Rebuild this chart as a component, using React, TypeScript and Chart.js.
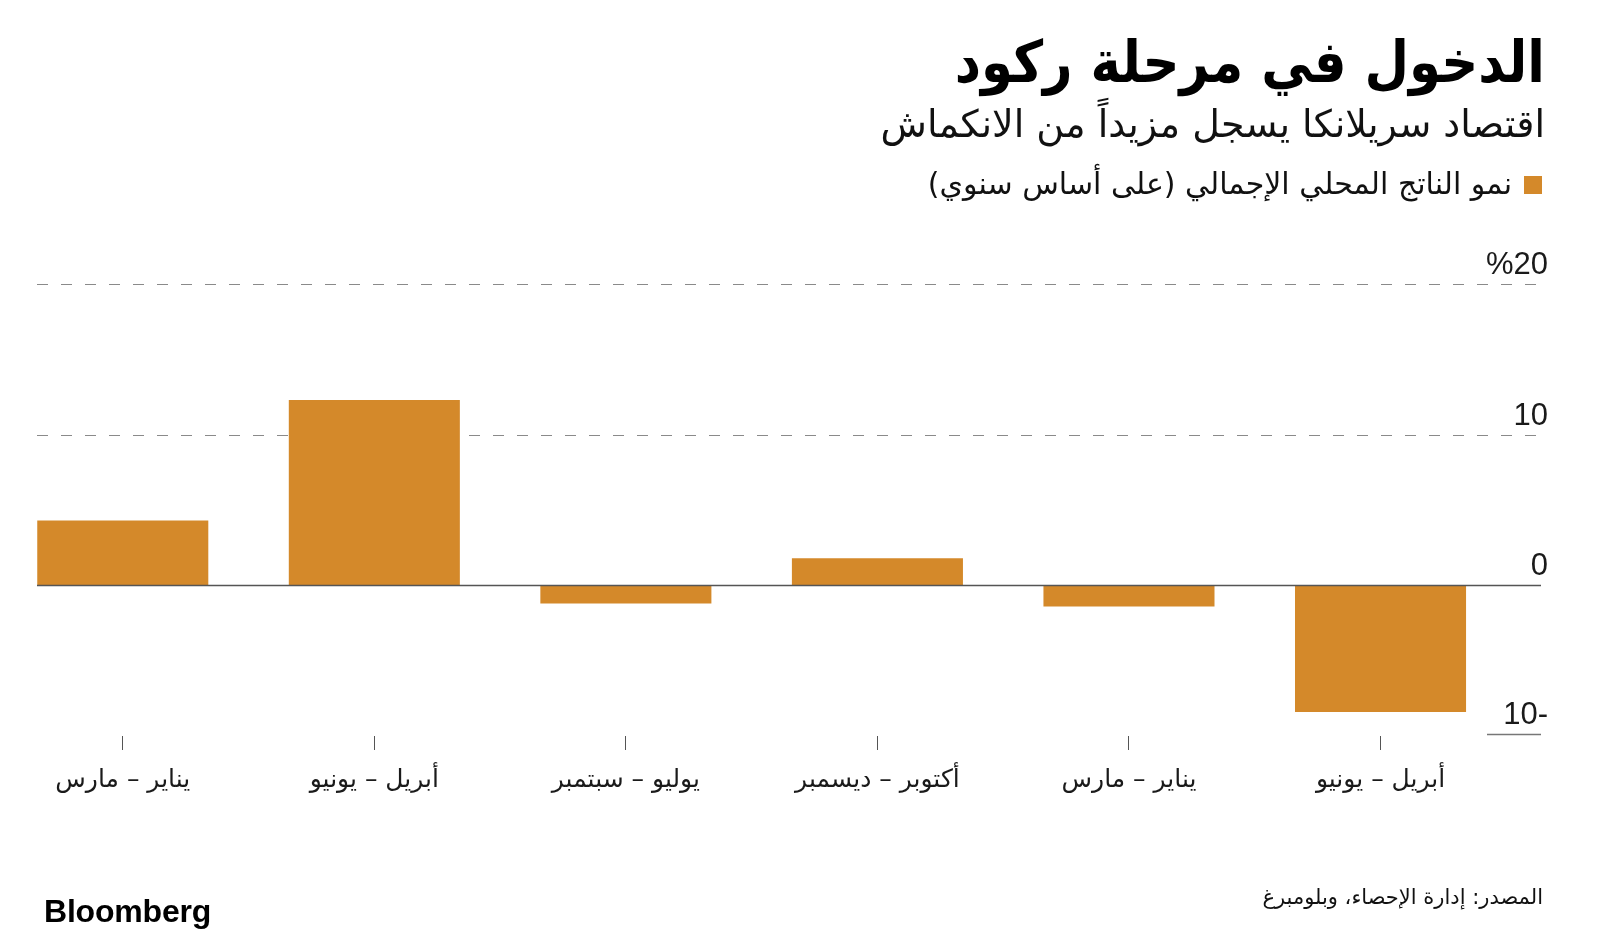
import React, { useEffect, useRef } from "react";
import { Chart, registerables } from "chart.js";

Chart.register(...registerables);

// ---- Data ----
const categories = [
  "يناير – مارس",
  "أبريل – يونيو",
  "يوليو – سبتمبر",
  "أكتوبر – ديسمبر",
  "يناير – مارس",
  "أبريل – يونيو",
];
const gdpGrowth = [4.3, 12.3, -1.2, 1.8, -1.4, -8.4];
const yTickValues = [20, 10, 0, -10];
const yTickLabels = ["%20", "10", "0", "10-"];

const TITLE = "الدخول في مرحلة ركود";
const SUBTITLE = "اقتصاد سريلانكا يسجل مزيداً من الانكماش";
const LEGEND = "نمو الناتج المحلي الإجمالي (على أساس سنوي)";
const SOURCE = "المصدر: إدارة الإحصاء، وبلومبرغ";

const BAR_COLOR = "#D4892A";
const CANVAS_SHIFT = 3; // canvas is placed 3px left of the page
const GRID_LEFT = 37 + CANVAS_SHIFT;
const GRID_RIGHT = 1541 + CANVAS_SHIFT;
const LABEL_RIGHT = 1548 + CANVAS_SHIFT;

const gridPlugin = {
  id: "customGrid",
  beforeDatasetsDraw(chart: any) {
    const y = chart.scales.y;
    const ctx = chart.ctx;
    ctx.save();
    ctx.strokeStyle = "#8a8a8a";
    ctx.lineWidth = 1;
    ctx.setLineDash([11, 13]);
    yTickValues.forEach((v) => {
      if (v > 0) {
        const py = Math.round(y.getPixelForValue(v)) + 0.5;
        ctx.beginPath();
        ctx.moveTo(GRID_LEFT, py);
        ctx.lineTo(GRID_RIGHT, py);
        ctx.stroke();
      }
    });
    ctx.restore();
  },
  afterDatasetsDraw(chart: any) {
    const y = chart.scales.y;
    const ctx = chart.ctx;
    ctx.save();
    // zero line
    const zy = Math.round(y.getPixelForValue(0)) + 0.5;
    ctx.strokeStyle = "#555";
    ctx.lineWidth = 1.3;
    ctx.beginPath();
    ctx.moveTo(GRID_LEFT, zy);
    ctx.lineTo(GRID_RIGHT, zy);
    ctx.stroke();
    // short underline for the minimum tick
    const my = Math.round(y.getPixelForValue(yTickValues[yTickValues.length - 1])) - 1.5;
    ctx.strokeStyle = "#777";
    ctx.lineWidth = 1.5;
    ctx.beginPath();
    ctx.moveTo(1487 + CANVAS_SHIFT, my);
    ctx.lineTo(GRID_RIGHT, my);
    ctx.stroke();
    // tick labels
    ctx.fillStyle = "#1a1a1a";
    ctx.font = "31px 'Liberation Sans', Arial, sans-serif";
    ctx.textAlign = "right";
    ctx.textBaseline = "alphabetic";
    yTickValues.forEach((v, i) => {
      const py = y.getPixelForValue(v);
      const off = i === yTickValues.length - 1 ? 12 : 10;
      ctx.fillText(yTickLabels[i], LABEL_RIGHT, py - off);
    });
    ctx.restore();
  },
};

function BarChart() {
  const ref = useRef<HTMLCanvasElement | null>(null);
  useEffect(() => {
    if (!ref.current) return;
    const chart = new Chart(ref.current, {
      type: "bar",
      data: {
        labels: categories,
        datasets: [
          {
            data: gdpGrowth,
            backgroundColor: BAR_COLOR,
            borderWidth: 0,
            barPercentage: 0.68,
            categoryPercentage: 1,
          },
        ],
      },
      options: {
        responsive: false,
        animation: false,
        layout: { padding: { top: 284, right: 100.7, bottom: 0, left: 0 } },
        plugins: { legend: { display: false }, tooltip: { enabled: false } },
        scales: {
          x: {
            offset: true,
            grid: {
              display: true,
              drawOnChartArea: false,
              drawTicks: true,
              tickLength: 14,
              color: "#555",
              lineWidth: 1,
              offset: false,
            },
            border: { display: false },
            ticks: {
              color: "#1a1a1a",
              font: { family: "'DejaVu Sans'", size: 25 },
              padding: 15,
              maxRotation: 0,
              autoSkip: false,
            },
            afterFit: (s: any) => {
              s.height = 204;
            },
          },
          y: {
            min: -10,
            max: 20,
            ticks: { display: false, stepSize: 10 },
            grid: { display: false },
            border: { display: false },
            afterFit: (s: any) => {
              s.width = 0;
            },
          },
        },
      } as any,
      plugins: [gridPlugin],
    });
    return () => chart.destroy();
  }, []);
  return (
    <canvas
      ref={ref}
      width={1610}
      height={940}
      style={{ position: "absolute", left: -CANVAS_SHIFT, top: 0, width: 1610, height: 940 }}
    />
  );
}

const textBase: React.CSSProperties = {
  position: "absolute",
  direction: "rtl",
  whiteSpace: "nowrap",
  fontFamily: "'DejaVu Sans', sans-serif",
  color: "#111",
  lineHeight: 1,
};

export default function App() {
  return (
    <div
      style={{
        position: "fixed",
        left: 0,
        top: 0,
        width: 1600,
        height: 940,
        background: "#fff",
        overflow: "hidden",
      }}
    >
      <BarChart />
      <div
        style={{
          ...textBase,
          right: 55,
          top: 33,
          fontSize: 58,
          fontWeight: 700,
          color: "#000",
          transform: "scaleX(0.885)",
          transformOrigin: "right center",
        }}
      >
        {TITLE}
      </div>
      <div style={{ ...textBase, right: 55, top: 105, fontSize: 38 }}>{SUBTITLE}</div>
      <div
        style={{
          position: "absolute",
          left: 1524,
          top: 176,
          width: 18,
          height: 18,
          background: BAR_COLOR,
        }}
      />
      <div style={{ ...textBase, right: 88, top: 169, fontSize: 30 }}>{LEGEND}</div>
      <div style={{ ...textBase, right: 57, top: 887, fontSize: 21 }}>{SOURCE}</div>
      <div
        style={{
          position: "absolute",
          left: 44,
          top: 895,
          fontFamily: "'Liberation Sans', Arial, sans-serif",
          fontWeight: 700,
          fontSize: 32,
          letterSpacing: -0.2,
          lineHeight: 1,
          color: "#000",
        }}
      >
        Bloomberg
      </div>
    </div>
  );
}
